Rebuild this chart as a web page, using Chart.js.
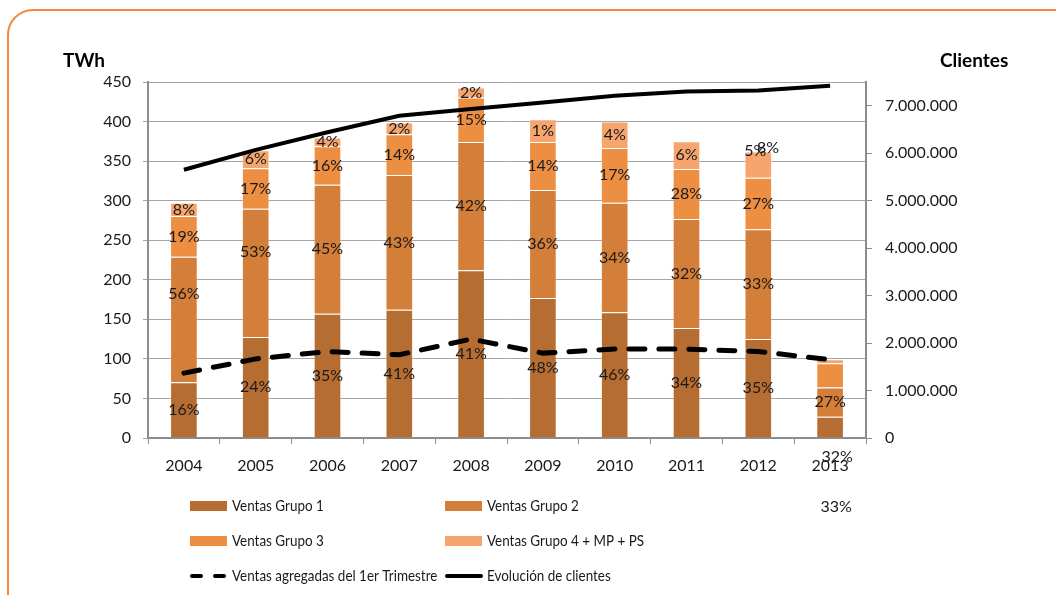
<!DOCTYPE html>
<html>
<head>
<meta charset="utf-8">
<script src="https://cdn.jsdelivr.net/npm/chart.js@4.4.1/dist/chart.umd.min.js"></script>
<style>
  html, body { margin: 0; padding: 0; background: #fff; overflow: hidden; }
  #wrap { position: relative; width: 1056px; height: 595px; }
  #chart { position: absolute; left: 0; top: 0; }
  #frame { position: absolute; left: 7px; top: 9px; width: 1200px; height: 800px;
           border: 2px solid #F58A3C; border-radius: 26px; pointer-events: none; }
</style>
</head>
<body>
<div id="wrap">
  <canvas id="chart" width="1056" height="595"></canvas>
  <div id="frame"></div>
</div>
<script>
// ---- data (TWh por grupo, ventas 1er trimestre, clientes) ----
const years = ['2004', '2005', '2006', '2007', '2008', '2009', '2010', '2011', '2012', '2013'];
const grupo1 = [70.6, 127.6, 157.2, 162.2, 212, 177, 158.8, 139, 125, 27];
const grupo2 = [158.4, 162.2, 162.8, 170.2, 162.3, 136.4, 138.7, 137.7, 139, 36.8];
const grupo3 = [51.5, 51.2, 48.8, 51.6, 56.2, 60.6, 69.2, 63.3, 65, 30.8];
const grupo4 = [17, 22.8, 11, 14.8, 12.7, 29, 33.3, 35, 33, 5.1];
const ventasTrimestre = [82, 100, 109.4, 105.2, 125, 107.3, 112.4, 112.4, 109.4, 98.9];
const clientes = [5651000, 6070000, 6440000, 6790000, 6930000, 7070000, 7210000, 7300000, 7320000, 7420000];
const clientesTicks = [0, 1000000, 2000000, 3000000, 4000000, 5000000, 6000000, 7000000];

// etiquetas de porcentaje de cada segmento
const pctGrupo1 = ['16%', '24%', '35%', '41%', '41%', '48%', '46%', '34%', '35%', '33%'];
const pctGrupo2 = ['56%', '53%', '45%', '43%', '42%', '36%', '34%', '32%', '33%', '27%'];
const pctGrupo3 = ['19%', '17%', '16%', '14%', '15%', '14%', '17%', '28%', '27%', '32%'];
const pctGrupo4 = ['8%', '6%', '4%', '2%', '2%', '1%', '4%', '6%', '5%', '8%'];

// some labels were dragged around by hand in the original (px offsets)
const labelOffsets = {
  '1:0': [0, -26], '1:1': [0, -21],
  '3:8': [-3, -14], '3:9': [-62, -213],
  '2:9': [7, 81], '0:9': [6, 80]
};

const FONT = 'Lato, "Open Sans", sans-serif';
Chart.defaults.font.family = FONT;
Chart.defaults.color = '#1a1a1a';

const fmtMiles = v => String(v).replace(/\B(?=(\d{3})+(?!\d))/g, '.');

// ---- plugins: segment labels, axis titles, legend ----
const pctLabels = {
  id: 'pctLabels',
  afterDatasetsDraw(chart) {
    const ctx = chart.ctx;
    const all = [pctGrupo1, pctGrupo2, pctGrupo3, pctGrupo4];
    ctx.save();
    ctx.font = '16px ' + FONT;
    ctx.fillStyle = '#1a1a1a';
    ctx.textAlign = 'center';
    ctx.textBaseline = 'middle';
    all.forEach((arr, d) => {
      chart.getDatasetMeta(d).data.forEach((bar, i) => {
        const p = bar.getProps(['x', 'y', 'base'], true);
        const off = labelOffsets[d + ':' + i] || [0, 0];
        ctx.fillText(arr[i], p.x + off[0], (p.y + p.base) / 2 + off[1]);
      });
    });
    ctx.restore();
  }
};

const extras = {
  id: 'extras',
  afterDraw(chart) {
    const ctx = chart.ctx;
    const ds = chart.data.datasets;
    ctx.save();
    // axis titles
    ctx.font = 'bold 19px ' + FONT;
    ctx.fillStyle = '#000';
    ctx.textBaseline = 'middle';
    ctx.textAlign = 'left';
    ctx.fillText('TWh', 63, 61);
    ctx.fillText('Clientes', 940, 61);

    // legend, 2 columns x 3 rows
    const cols = [190, 445];
    const rows = [506, 541, 576];
    ds.forEach((item, k) => {
      const x = cols[k % 2];
      const y = rows[Math.floor(k / 2)];
      if (item.type === 'line') {
        ctx.strokeStyle = item.borderColor;
        ctx.lineWidth = 4;
        ctx.lineCap = 'round';
        ctx.setLineDash(item.borderDash ? [9, 14] : []);
        ctx.beginPath();
        ctx.moveTo(x + 2, y);
        ctx.lineTo(x + 36, y);
        ctx.stroke();
        ctx.setLineDash([]);
      } else {
        ctx.fillStyle = item.backgroundColor;
        ctx.fillRect(x, y - 5, 37, 10);
      }
      // narrow the text a bit, the original face is condensed
      ctx.save();
      ctx.translate(x + 42, y);
      ctx.scale(0.84, 1);
      ctx.font = '16px ' + FONT;
      ctx.fillStyle = '#1a1a1a';
      ctx.fillText(item.label, 0, 0);
      ctx.restore();
    });
    ctx.restore();
  }
};

const barBase = { type: 'bar', stack: 'ventas', yAxisID: 'y', order: 2,
  borderColor: 'rgba(255,255,255,0.22)', borderWidth: 1, borderSkipped: 'bottom',
  barPercentage: 0.385, categoryPercentage: 1 };

new Chart(document.getElementById('chart'), {
  data: {
    labels: years,
    datasets: [
      { ...barBase, label: 'Ventas Grupo 1', data: grupo1, backgroundColor: '#B56D32' },
      { ...barBase, label: 'Ventas Grupo 2', data: grupo2, backgroundColor: '#D37F3A' },
      { ...barBase, label: 'Ventas Grupo 3', data: grupo3, backgroundColor: '#EC8F43' },
      { ...barBase, label: 'Ventas Grupo 4 + MP + PS', data: grupo4, backgroundColor: '#F6A56E' },
      { type: 'line', label: 'Ventas agregadas del 1er Trimestre', data: ventasTrimestre,
        yAxisID: 'y', stack: 'trim', order: 0, borderColor: '#000', borderWidth: 5,
        borderDash: [16, 14], borderCapStyle: 'round', pointRadius: 0, tension: 0, fill: false },
      { type: 'line', label: 'Evolución de clientes', data: clientes,
        yAxisID: 'y1', stack: 'cli', order: 0, borderColor: '#000', borderWidth: 4,
        pointRadius: 0, tension: 0, fill: false }
    ]
  },
  options: {
    responsive: false,
    animation: false,
    layout: { padding: { top: 82, left: 0, right: 0, bottom: 0 } },
    plugins: { legend: { display: false }, tooltip: { enabled: false } },
    scales: {
      x: {
        stacked: true,
        grid: { drawOnChartArea: false, tickLength: 6, color: '#8C8C8C', offset: true },
        border: { color: '#8C8C8C', width: 2 },
        ticks: { font: { size: 16 }, padding: 12, color: '#1a1a1a' },
        afterFit: s => { s.height = 157; }
      },
      y: {
        stacked: true,
        position: 'left',
        min: 0, max: 450,
        ticks: { stepSize: 50, font: { size: 16 }, padding: 12, color: '#1a1a1a' },
        grid: { color: '#A6A6A6', lineWidth: 1, tickLength: 5 },
        border: { color: '#8C8C8C', width: 2 },
        afterFit: s => { s.width = 148; }
      },
      y1: {
        position: 'right',
        min: 0, max: 7500000,
        afterBuildTicks: s => { s.ticks = clientesTicks.map(v => ({ value: v })); },
        ticks: { font: { size: 16 }, padding: 13, color: '#1a1a1a', callback: v => fmtMiles(v) },
        grid: { drawOnChartArea: false, tickLength: 6, color: '#8C8C8C' },
        border: { color: '#8C8C8C', width: 2 },
        afterFit: s => { s.width = 190; }
      }
    }
  },
  plugins: [pctLabels, extras]
});
</script>
</body>
</html>
